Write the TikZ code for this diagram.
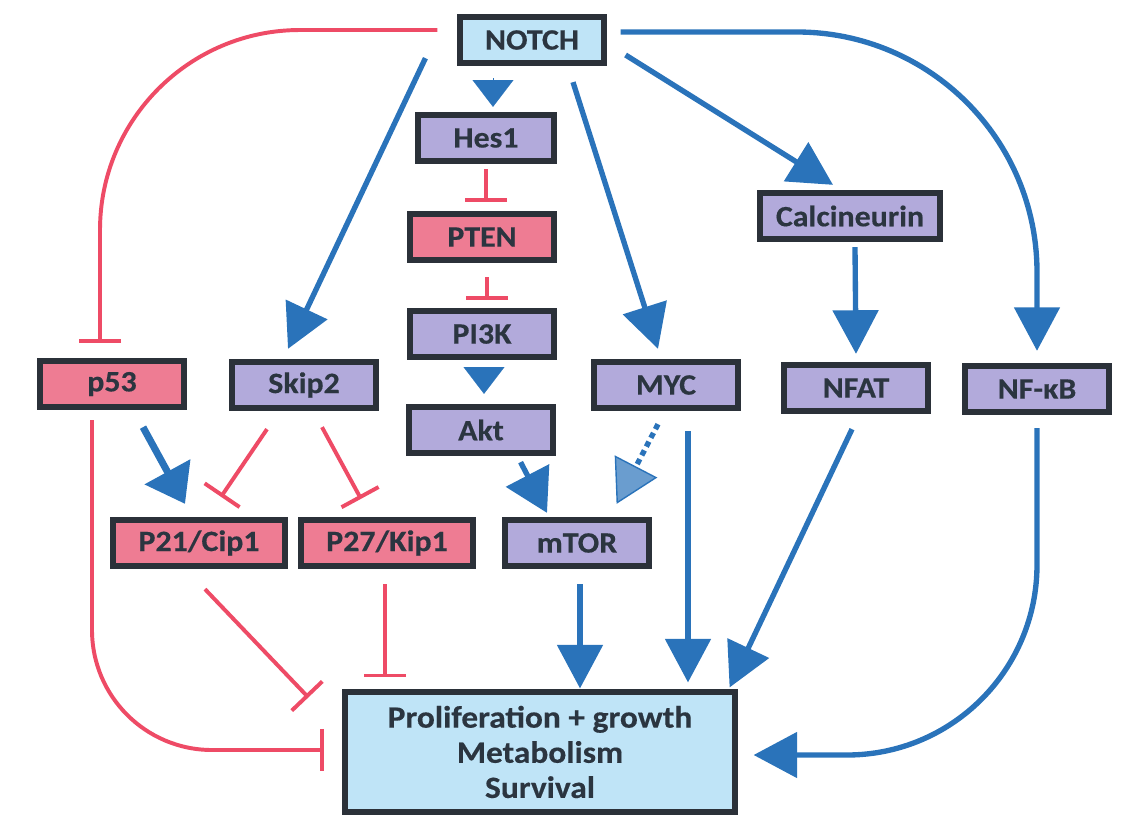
\documentclass[tikz,border=0pt]{standalone}
\usepackage{fontspec}
\setmainfont[FakeStretch=1.08,BoldFeatures={FakeBold=0.4}]{Carlito}
\usetikzlibrary{arrows.meta,calc}
\definecolor{edge}{HTML}{2B3139}
\definecolor{sky}{HTML}{BFE4F7}
\definecolor{lav}{HTML}{B2AADB}
\definecolor{rose}{HTML}{EE7C93}
\definecolor{ablue}{HTML}{2A73BA}
\definecolor{ared}{HTML}{EE4B66}
\definecolor{ink}{HTML}{2B3540}
\tikzset{
  box/.style={draw=edge,line width=4.2pt,minimum width=3.58cm,minimum height=1.16cm,inner sep=2pt,align=center,text=ink,font=\fontsize{21}{24}\selectfont\bfseries},
  sbox/.style={box,fill=sky},
  pbox/.style={box,fill=lav},
  rbox/.style={box,fill=rose},
  ar/.style={-{Triangle[length=31pt,width=32pt]},line width=3.8pt,draw=ablue},
  tri/.style={-{Triangle[length=19pt,width=29pt]},line width=0.1pt,draw=ablue},
  inh/.style={-{Bar[width=30pt]},line width=2.8pt,draw=ared},
}
\begin{document}
\begin{tikzpicture}[x=0.025cm,y=-0.025cm]
\useasboundingbox (0,0) rectangle (1140,818);
% boxes
\node[sbox] (notch) at (532,40) {NOTCH};
\node[pbox,minimum width=3.4cm] (hes1) at (486,138) {Hes1};
\node[rbox] (pten) at (482,237) {PTEN};
\node[pbox] (pi3k) at (482,334) {PI3K};
\node[pbox] (akt) at (481,430) {Akt};
\node[pbox] (mtor) at (577,543) {mTOR};
\node[pbox] (myc) at (666,385) {MYC};
\node[pbox,minimum width=4.48cm] (calc) at (850,216) {Calcineurin};
\node[pbox] (nfat) at (856,388) {NFAT};
\node[pbox] (nfkb) at (1037,389) {NF-κB};
\node[rbox] (p53) at (112,384) {p53};
\node[pbox] (skip2) at (304,385) {Skip2};
\node[rbox,minimum width=4.3cm] (p21) at (199,543) {P21/Cip1};
\node[rbox,minimum width=4.3cm] (p27) at (387,543) {P27/Kip1};
\node[sbox,minimum width=9.73cm,minimum height=2.98cm,font=\fontsize{22}{25}\selectfont\bfseries] (out) at (540,752) {Proliferation + growth\\Metabolism\\Survival};
% from NOTCH
\draw[inh,rounded corners=5cm] ($(notch.west)+(-20,-10)$) -| ($(p53.north)+(-12,-15)$);
\draw[ar] ($(notch.south west)+(-32,-8)$) -- ($(skip2.north)+(-16,-10)$);
\draw[tri] ($(notch.south)+(-39,12)$) -- ($(hes1.north)+(7,-5)$);
\draw[ar] ($(notch.south)+(41,16)$) -- ($(myc.north)+(-8,-10)$);
\draw[ar] ($(notch.east)+(19,15)$) -- ($(calc.north)+(-17,-5)$);
\draw[ar,rounded corners=6cm] ($(notch.east)+(14,-8)$) -| ($(nfkb.north)+(0,-12)$);
% PI3K axis
\draw[inh] ($(hes1.south)+(0,5)$) -- ($(pten.north)+(4,-9)$);
\draw[inh] ($(pten.south)+(5,14)$) -- ($(pi3k.north)+(5,-8)$);
\draw[tri] ($(pi3k.south)+(2,8)$) -- ($(akt.north)+(3,-10)$);
\draw[ar,-{Triangle[length=30pt,width=34pt]}] ($(akt.south east)+(-35,6)$) -- ($(mtor.north)+(-30,-4)$);
\draw[ar,dash pattern=on 4pt off 3pt,-{Triangle[length=30pt,width=34pt,fill=ablue!70,line width=1pt]}] ($(myc.south)+(-8,13)$) -- ($(mtor.north east)+(-35,-13)$);
\draw[ar] ($(calc.south)+(5,5)$) -- ($(nfat.north)+(0,-8)$);
% p53 / Skip2
\draw[ar,line width=5pt,-{Triangle[length=26pt,width=36pt]}] ($(p53.south)+(31,17)$) -- ($(p21.north)+(-14,-13)$);
\draw[inh] ($(skip2.south)+(-37,18)$) -- ($(p21.north)+(22,-20)$);
\draw[inh] ($(skip2.south)+(18,16)$) -- ($(p27.north)+(-26,-18)$);
% into the outcome box
\draw[inh,rounded corners=3cm] ($(p53.south)+(-20,10)$) |- ($(out.west)+(-18,-2)$);
\draw[inh] ($(p21.south)+(6,20)$) -- ($(out.north west)+(-34,8)$);
\draw[inh] ($(p27.south)+(-2,15)$) -- ($(p27.south |- out.north)+(-2,-12)$);
\draw[ar] ($(mtor.south)+(3,15)$) -- ($(mtor.south |- out.north)+(3,-1)$);
\draw[ar] ($(myc.south)+(22,20)$) -- ($(myc.south |- out.north)+(22,-7)$);
\draw[ar] ($(nfat.south)+(-4,15)$) -- ($(out.north east)+(-8,-2)$);
\draw[ar,rounded corners=4.75cm] ($(nfkb.south)+(0,13)$) |- ($(out.east)+(16,3)$);
\end{tikzpicture}
\end{document}
